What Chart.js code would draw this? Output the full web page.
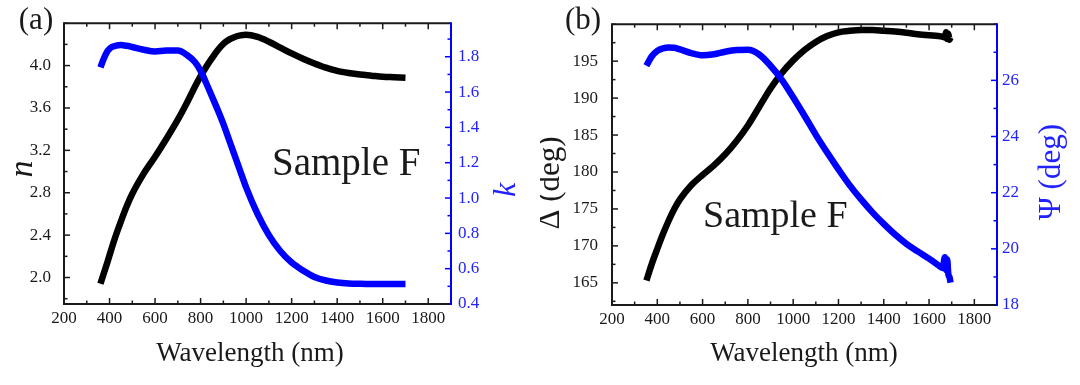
<!DOCTYPE html>
<html>
<head>
<meta charset="utf-8">
<script src="https://cdn.jsdelivr.net/npm/chart.js@4.4.1/dist/chart.umd.min.js"></script>
<style>
  html, body { margin: 0; padding: 0; background: #fff; }
  .wrap { display: flex; width: 1080px; height: 385px; }
  .panel { position: relative; width: 540px; height: 385px; }
</style>
</head>
<body>
<div class="wrap">
  <div class="panel"><canvas id="chartA"></canvas></div>
  <div class="panel"><canvas id="chartB"></canvas></div>
</div>
<script>
// ==============================
// Data
// ==============================

// panel (a): optical constants n, k
const wlA = [360, 375, 390, 400, 410, 425, 450, 475, 500, 550, 600, 650, 700, 740, 775, 800, 825, 850, 875, 900,
             925, 950, 975, 1000, 1050, 1100, 1150, 1200, 1250, 1300, 1350, 1400, 1450, 1500, 1550, 1600, 1650, 1700];
const nVals = [1.94, 2.04, 2.14, 2.21, 2.28, 2.38, 2.53, 2.67, 2.79, 2.98, 3.14, 3.31, 3.49, 3.65, 3.80, 3.90, 3.99, 4.07, 4.145, 4.205,
               4.245, 4.27, 4.285, 4.29, 4.27, 4.225, 4.17, 4.115, 4.065, 4.02, 3.98, 3.95, 3.93, 3.915, 3.905, 3.895, 3.89, 3.885];
const kVals = [1.74, 1.79, 1.83, 1.845, 1.855, 1.862, 1.866, 1.862, 1.855, 1.84, 1.83, 1.835, 1.835, 1.81, 1.77, 1.72, 1.65, 1.575, 1.50, 1.42,
               1.33, 1.24, 1.15, 1.06, 0.91, 0.79, 0.70, 0.635, 0.59, 0.553, 0.533, 0.522, 0.516, 0.514, 0.513, 0.513, 0.513, 0.513];

// panel (b): ellipsometric angles Delta, Psi
const wlB = [352, 375, 400, 425, 450, 475, 500, 550, 600, 650, 700, 750, 800, 850, 900, 950, 1000, 1050, 1100, 1150,
             1200, 1250, 1300, 1350, 1400, 1450, 1500, 1550, 1600, 1640, 1660, 1670, 1675, 1680, 1685, 1690, 1695];
const deltaVals = [165.3, 167.5, 169.6, 171.6, 173.4, 175.0, 176.3, 178.2, 179.6, 180.9, 182.4, 184.2, 186.3, 188.8, 191.3, 193.4, 195.1, 196.5, 197.6, 198.4,
                   198.9, 199.1, 199.2, 199.2, 199.1, 199.0, 198.85, 198.65, 198.5, 198.4, 198.3, 198.2, 198.9, 198.0, 198.7, 197.9, 198.2];
const psiVals = [26.52, 26.85, 27.05, 27.14, 27.17, 27.16, 27.10, 26.97, 26.89, 26.93, 27.02, 27.08, 27.09, 26.92, 26.52, 26.02, 25.40, 24.74, 24.06, 23.43,
                 22.83, 22.26, 21.76, 21.30, 20.89, 20.51, 20.18, 19.91, 19.65, 19.42, 19.32, 19.70, 19.25, 19.62, 19.10, 19.00, 18.80];

// tick labels
const xTicks = [200, 400, 600, 800, 1000, 1200, 1400, 1600, 1800];
const nTicks = [2.0, 2.4, 2.8, 3.2, 3.6, 4.0];
const kTicks = [0.4, 0.6, 0.8, 1.0, 1.2, 1.4, 1.6, 1.8];
const deltaTicks = [165, 170, 175, 180, 185, 190, 195];
const psiTicks = [18, 20, 22, 24, 26];

const SERIF = "'Liberation Serif', 'Times New Roman', serif";
const BLUE = '#0000ff';
const BLUE_TXT = '#2222ff';
const INK = '#1a1a1a';

Chart.defaults.font.family = SERIF;

const toXY = (xs, ys) => xs.map((x, i) => ({ x: x, y: ys[i] }));

// ==============================
// Frame, inward ticks and labels
// ==============================
function eachTick(scale, step, fn) {
    const majors = scale.ticks.map(t => t.value);
    const i0 = Math.ceil(scale.min / step - 1e-6);
    const i1 = Math.floor(scale.max / step + 1e-6);
    for (let i = i0; i <= i1; i++) {
        const v = i * step;
        const major = majors.some(m => Math.abs(m - v) < step * 1e-3);
        fn(scale.getPixelForValue(v), major);
    }
}

const frameTicks = {
    id: 'frameTicks',
    afterDatasetsDraw(chart, args, opts) {
        const ctx = chart.ctx;
        const a = chart.chartArea;
        const sx = chart.scales.x, sl = chart.scales.yL, sr = chart.scales.yR;
        const seg = (x1, y1, x2, y2) => { ctx.beginPath(); ctx.moveTo(x1, y1); ctx.lineTo(x2, y2); ctx.stroke(); };
        ctx.save();
        ctx.lineWidth = 1.5;
        ctx.strokeStyle = INK;
        eachTick(sx, opts.xMinor, (px, major) => {
            const len = major ? 6 : 3.5;
            seg(px, a.bottom, px, a.bottom - len);
            seg(px, a.top, px, a.top + len);
        });
        eachTick(sl, opts.leftMinor, (py, major) => {
            seg(a.left, py, a.left + (major ? 6 : 3.5), py);
        });
        ctx.strokeStyle = BLUE;
        eachTick(sr, opts.rightMinor, (py, major) => {
            seg(a.right, py, a.right - (major ? 6 : 3.5), py);
        });

        ctx.lineWidth = 2;
        ctx.strokeStyle = INK;
        ctx.beginPath();
        ctx.moveTo(a.right, a.top);
        ctx.lineTo(a.left, a.top);
        ctx.lineTo(a.left, a.bottom);
        ctx.lineTo(a.right, a.bottom);
        ctx.stroke();
        ctx.strokeStyle = BLUE;
        seg(a.right, a.top - 1, a.right, a.bottom + 1);

        opts.texts.forEach(t => {
            ctx.save();
            ctx.font = (t.italic ? 'italic ' : '') + t.size + 'px ' + SERIF;
            ctx.fillStyle = t.color || INK;
            ctx.textAlign = t.align || 'center';
            ctx.textBaseline = 'alphabetic';
            ctx.translate(t.x, t.y);
            if (t.rot) ctx.rotate(-Math.PI / 2);
            ctx.fillText(t.text, 0, 0);
            ctx.restore();
        });
        ctx.restore();
    }
};

function scaleOpts(min, max, tickVals, fit, color, pad, fmt) {
    return {
        type: 'linear',
        min: min,
        max: max,
        afterBuildTicks: s => { s.ticks = tickVals.map(v => ({ value: v })); },
        afterFit: fit,
        grid: { display: false, drawTicks: false },
        border: { display: false },
        ticks: {
            color: color,
            font: { size: 17 },
            padding: pad,
            autoSkip: false,
            maxRotation: 0,
            callback: fmt
        }
    };
}

function lineSet(label, xs, ys, axis, color) {
    return {
        label: label,
        data: toXY(xs, ys),
        yAxisID: axis,
        borderColor: color,
        borderWidth: 6.5,
        pointRadius: 0,
        cubicInterpolationMode: 'monotone',
        borderJoinStyle: 'round'
    };
}

// ==============================
// Panel (a)
// ==============================
const chartA = new Chart(document.getElementById('chartA').getContext('2d'), {
    type: 'line',
    data: {
        datasets: [
            lineSet('k', wlA, kVals, 'yR', BLUE),
            lineSet('n', wlA, nVals, 'yL', '#000')
        ]
    },
    options: {
        responsive: true,
        maintainAspectRatio: false,
        animation: false,
        layout: { padding: { left: 0, right: 0, top: 21, bottom: 0 } },
        plugins: {
            legend: { display: false },
            tooltip: { enabled: false },
            frameTicks: {
                xMinor: 100, leftMinor: 0.2, rightMinor: 0.1,
                texts: [
                    { text: '(a)', x: 36, y: 29, size: 31 },
                    { text: 'n', x: 32, y: 169, size: 34, italic: true, rot: true },
                    { text: 'k', x: 515, y: 190, size: 32, italic: true, rot: true, color: BLUE_TXT },
                    { text: 'Sample F', x: 272, y: 175, size: 39, align: 'left' },
                    { text: 'Wavelength (nm)', x: 250, y: 361, size: 27 }
                ]
            }
        },
        scales: {
            x: Object.assign(scaleOpts(200, 1900, xTicks, s => { s.height = 81; }, INK, 4, v => String(v)), { position: 'bottom' }),
            yL: Object.assign(scaleOpts(1.75, 4.4, nTicks, s => { s.width = 64; }, INK, 13, v => v.toFixed(1)), { position: 'left' }),
            yR: Object.assign(scaleOpts(0.4, 1.99, kTicks, s => { s.width = 89; }, BLUE_TXT, 7, v => v.toFixed(1)), { position: 'right' })
        }
    },
    plugins: [frameTicks]
});

// ==============================
// Panel (b)
// ==============================
const chartB = new Chart(document.getElementById('chartB').getContext('2d'), {
    type: 'line',
    data: {
        datasets: [
            lineSet('Psi', wlB, psiVals, 'yR', BLUE),
            lineSet('Delta', wlB, deltaVals, 'yL', '#000')
        ]
    },
    options: {
        responsive: true,
        maintainAspectRatio: false,
        animation: false,
        layout: { padding: { left: 0, right: 0, top: 22, bottom: 0 } },
        plugins: {
            legend: { display: false },
            tooltip: { enabled: false },
            frameTicks: {
                xMinor: 100, leftMinor: 2.5, rightMinor: 1,
                texts: [
                    { text: '(b)', x: 43, y: 29, size: 31 },
                    { text: '\u0394 (deg)', x: 19, y: 183, size: 31, rot: true },
                    { text: '\u03A8 (deg)', x: 520, y: 172, size: 31, rot: true, color: BLUE_TXT },
                    { text: 'Sample F', x: 163, y: 227, size: 38, align: 'left' },
                    { text: 'Wavelength (nm)', x: 264, y: 361, size: 27 }
                ]
            }
        },
        scales: {
            x: Object.assign(scaleOpts(200, 1900, xTicks, s => { s.height = 80; }, INK, 4, v => String(v)), { position: 'bottom' }),
            yL: Object.assign(scaleOpts(162, 200, deltaTicks, s => { s.width = 72; }, INK, 14, v => String(v)), { position: 'left' }),
            yR: Object.assign(scaleOpts(18, 28, psiTicks, s => { s.width = 83; }, BLUE_TXT, 5, v => String(v)), { position: 'right' })
        }
    },
    plugins: [frameTicks]
});
</script>
</body>
</html>
